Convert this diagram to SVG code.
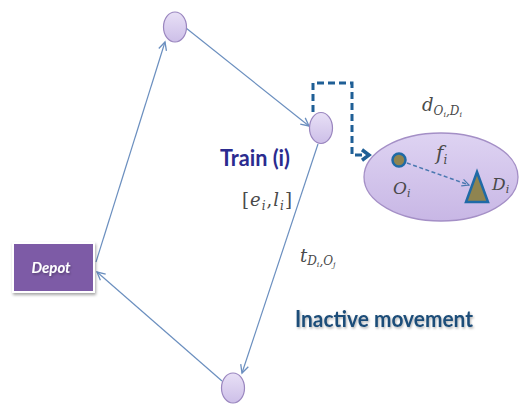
<svg xmlns="http://www.w3.org/2000/svg" width="529" height="405" viewBox="0 0 529 405">
<defs>
<linearGradient id="nodeGrad" x1="0" y1="0" x2="0" y2="1">
<stop offset="0" stop-color="#e8e0f6"/>
<stop offset="1" stop-color="#cdbfe8"/>
</linearGradient>
<linearGradient id="ellGrad" x1="0" y1="0" x2="0" y2="1">
<stop offset="0" stop-color="#ded3f2"/>
<stop offset="1" stop-color="#c8b7e5"/>
</linearGradient>
<marker id="openArrow" markerUnits="userSpaceOnUse" markerWidth="12" markerHeight="12" refX="9" refY="5" orient="auto" viewBox="0 0 12 10">
<path d="M1,1 L9,5 L1,9" fill="none" stroke="#6b8fbf" stroke-width="1.3"/>
</marker>
<marker id="dashArrow" markerUnits="userSpaceOnUse" markerWidth="14" markerHeight="14" refX="8" refY="6" orient="auto" viewBox="0 0 12 12">
<path d="M2,1.5 L8,6 L2,10.5" fill="none" stroke="#1f5f96" stroke-width="3"/>
</marker>
<marker id="smallArrow" markerUnits="userSpaceOnUse" markerWidth="10" markerHeight="10" refX="8" refY="4" orient="auto" viewBox="0 0 10 8">
<path d="M1,0.5 L8,4 L1,7.5" fill="none" stroke="#4a78b0" stroke-width="1.2"/>
</marker>
<filter id="shadow" x="-20%" y="-20%" width="140%" height="150%">
<feDropShadow dx="1" dy="2" stdDeviation="1.5" flood-color="#000" flood-opacity="0.35"/>
</filter>
<filter id="textShadow" x="-10%" y="-20%" width="120%" height="150%">
<feDropShadow dx="1" dy="1.5" stdDeviation="1" flood-color="#000" flood-opacity="0.3"/>
</filter>
</defs>
<style>
.node{fill:url(#nodeGrad);stroke:#9a86bf;stroke-width:1.2}
.edge{fill:none;stroke:#6b8fbf;stroke-width:1.2;marker-end:url(#openArrow)}
.math{font-family:"DejaVu Serif","Liberation Serif",serif;font-style:italic;fill:#4a4a4a}
.calibri{font-family:Lato,"Liberation Sans",sans-serif;font-weight:bold}
</style>

<g id="connectors">
<line class="edge" x1="96" y1="262" x2="165" y2="42"/>
<line class="edge" x1="186" y1="28" x2="309" y2="126"/>
<line class="edge" x1="318" y1="144" x2="242" y2="373"/>
<line class="edge" x1="222" y1="381" x2="97" y2="272"/>
<path d="M313,112 V83 H352 V155 H369" fill="none" stroke="#1f5f96" stroke-width="3" stroke-dasharray="7,4" marker-end="url(#dashArrow)"/>
</g>

<g id="depot">
<rect x="12" y="242" width="83" height="51" fill="#ffffff" filter="url(#shadow)"/>
<rect x="14" y="244" width="79" height="47" fill="#7d5ba6"/>
<text x="51" y="273" text-anchor="middle" font-family="Lato,'Liberation Sans',sans-serif" font-weight="bold" font-style="italic" font-size="15" fill="#ffffff" filter="url(#textShadow)">Depot</text>
</g>

<g id="node-top">
<ellipse class="node" cx="175" cy="27" rx="11.5" ry="15"/>
</g>

<g id="node-train">
<ellipse class="node" cx="321" cy="128" rx="11.5" ry="15.5"/>
<text class="calibri" x="220" y="166" font-size="23" fill="#2b2b8f" textLength="70" lengthAdjust="spacingAndGlyphs">Train (i)</text>
<text class="math" x="242" y="206" font-size="18" textLength="50"><tspan font-style="normal">[</tspan>e<tspan font-size="12" dy="4">i</tspan><tspan dy="-4" font-style="normal">,</tspan>l<tspan font-size="12" dy="4">i</tspan><tspan dy="-4" font-style="normal">]</tspan></text>
</g>

<g id="node-bottom">
<ellipse class="node" cx="233" cy="388" rx="11.5" ry="15"/>
</g>

<g id="trip">
<ellipse cx="441" cy="177" rx="77" ry="44" fill="url(#ellGrad)" stroke="#a48fc6" stroke-width="1.3"/>
<line x1="407" y1="163" x2="469" y2="185" stroke="#4a78b0" stroke-width="1.5" stroke-dasharray="4,2.5" marker-end="url(#smallArrow)"/>
<circle cx="399" cy="160" r="6.5" fill="#8f8450" stroke="#1f6aa6" stroke-width="2.5"/>
<polygon points="477,172 466,202 488,202" fill="#8f8450" stroke="#1f6aa6" stroke-width="2.5" stroke-linejoin="miter"/>
<text class="math" x="422" y="111" font-size="18">d<tspan font-size="12" dy="4">O</tspan><tspan font-size="8" dy="2">i</tspan><tspan font-size="12" dy="-2">,D</tspan><tspan font-size="8" dy="2">i</tspan></text>
<text class="math" x="436" y="160" font-size="20">f<tspan font-size="12" dy="4">i</tspan></text>
<text class="math" x="393" y="194" font-size="17">O<tspan font-size="11" dy="3">i</tspan></text>
<text class="math" x="492" y="190" font-size="17">D<tspan font-size="11" dy="3">i</tspan></text>
</g>

<g id="labels">
<text class="math" x="300" y="262" font-size="18">t<tspan font-size="12" dy="3">D</tspan><tspan font-size="8" dy="2">i</tspan><tspan font-size="12" dy="-2">,O</tspan><tspan font-size="8" dy="2">j</tspan></text>
<text class="calibri" x="295" y="327" font-size="23" fill="#1f4e79" textLength="178" lengthAdjust="spacingAndGlyphs" filter="url(#textShadow)">Inactive movement</text>
</g>
</svg>
